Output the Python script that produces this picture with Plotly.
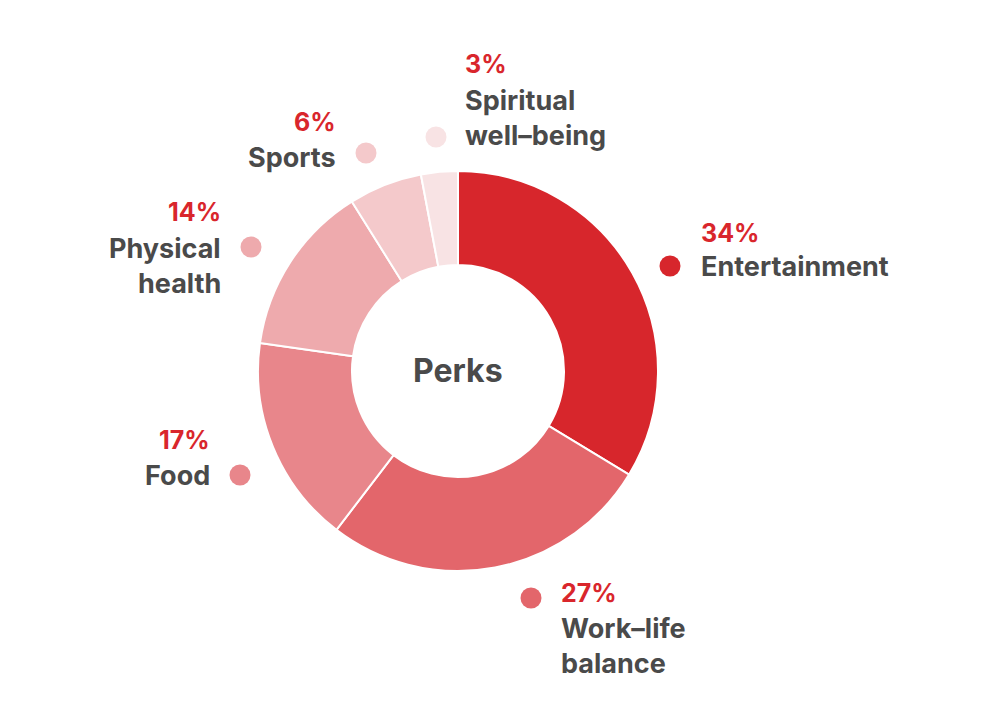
import plotly.graph_objects as go

categories = ["Entertainment", "Work-life balance", "Food", "Physical health", "Sports", "Spiritual well-being"]
values = [34, 27, 17, 14, 6, 3]
colors = ["#D7262C", "#E3666B", "#E8868B", "#EEAAAD", "#F4C9CB", "#F8E3E4"]
label_lines = [["Entertainment"], ["Work\u2013life", "balance"], ["Food"], ["Physical", "health"], ["Sports"], ["Spiritual", "well\u2013being"]]

RED = "#D9262C"
GREY = "#4A4A4A"
FONT = "Inter"

# label placement in screen pixels: dot x, dot y, text x, pct y, first line y, anchor
placement = [
    (670, 266, 699, 233, 266, "left"),
    (531, 598, 559, 593, 628, "left"),
    (240, 475, 212, 440, 475, "right"),
    (251, 247, 223, 212, 248, "right"),
    (366, 153, 338, 122, 157, "right"),
    (436, 137, 463, 64, 100, "left"),
]
line_gap = 35

# page body has an 8px margin, so the axes are offset to map straight onto screen pixels
OFF = 8
W, H = 1000, 714

fig = go.Figure()
fig.add_trace(go.Pie(
    labels=categories,
    values=values,
    sort=False,
    direction="clockwise",
    rotation=0,
    hole=0.53,
    marker=dict(colors=colors, line=dict(color="white", width=2)),
    textinfo="none",
    hoverinfo="label+percent",
    showlegend=False,
    domain=dict(x=[(258 - OFF) / W, (658 - OFF) / W],
                y=[1 - (571 - OFF) / H, 1 - (171 - OFF) / H]),
))

fig.add_trace(go.Scatter(
    x=[p[0] for p in placement],
    y=[p[1] for p in placement],
    mode="markers",
    marker=dict(size=21, color=colors),
    hoverinfo="skip",
    showlegend=False,
))

annotations = []
for cat, val, lines, p in zip(categories, values, label_lines, placement):
    dx, dy, tx, py, ly, anchor = p
    annotations.append(dict(
        x=tx, y=py, xref="x", yref="y", text=f"{val}%", showarrow=False,
        xanchor=anchor, yanchor="middle",
        font=dict(family=FONT, size=25, color=RED, weight=700),
    ))
    for i, line in enumerate(lines):
        annotations.append(dict(
            x=tx, y=ly + i * line_gap, xref="x", yref="y", text=line, showarrow=False,
            xanchor=anchor, yanchor="middle",
            font=dict(family=FONT, size=27, color=GREY, weight=700),
        ))

annotations.append(dict(
    x=458, y=370, xref="x", yref="y", text="Perks", showarrow=False,
    xanchor="center", yanchor="middle",
    font=dict(family=FONT, size=32, color=GREY, weight=700),
))

fig.update_layout(
    width=W, height=H,
    margin=dict(l=0, r=0, t=0, b=0),
    paper_bgcolor="white",
    plot_bgcolor="rgba(0,0,0,0)",
    xaxis=dict(range=[OFF, W + OFF], visible=False, domain=[0, 1], fixedrange=True),
    yaxis=dict(range=[H + OFF, OFF], visible=False, domain=[0, 1], fixedrange=True),
    annotations=annotations,
)

fig.write_html("out.html")
